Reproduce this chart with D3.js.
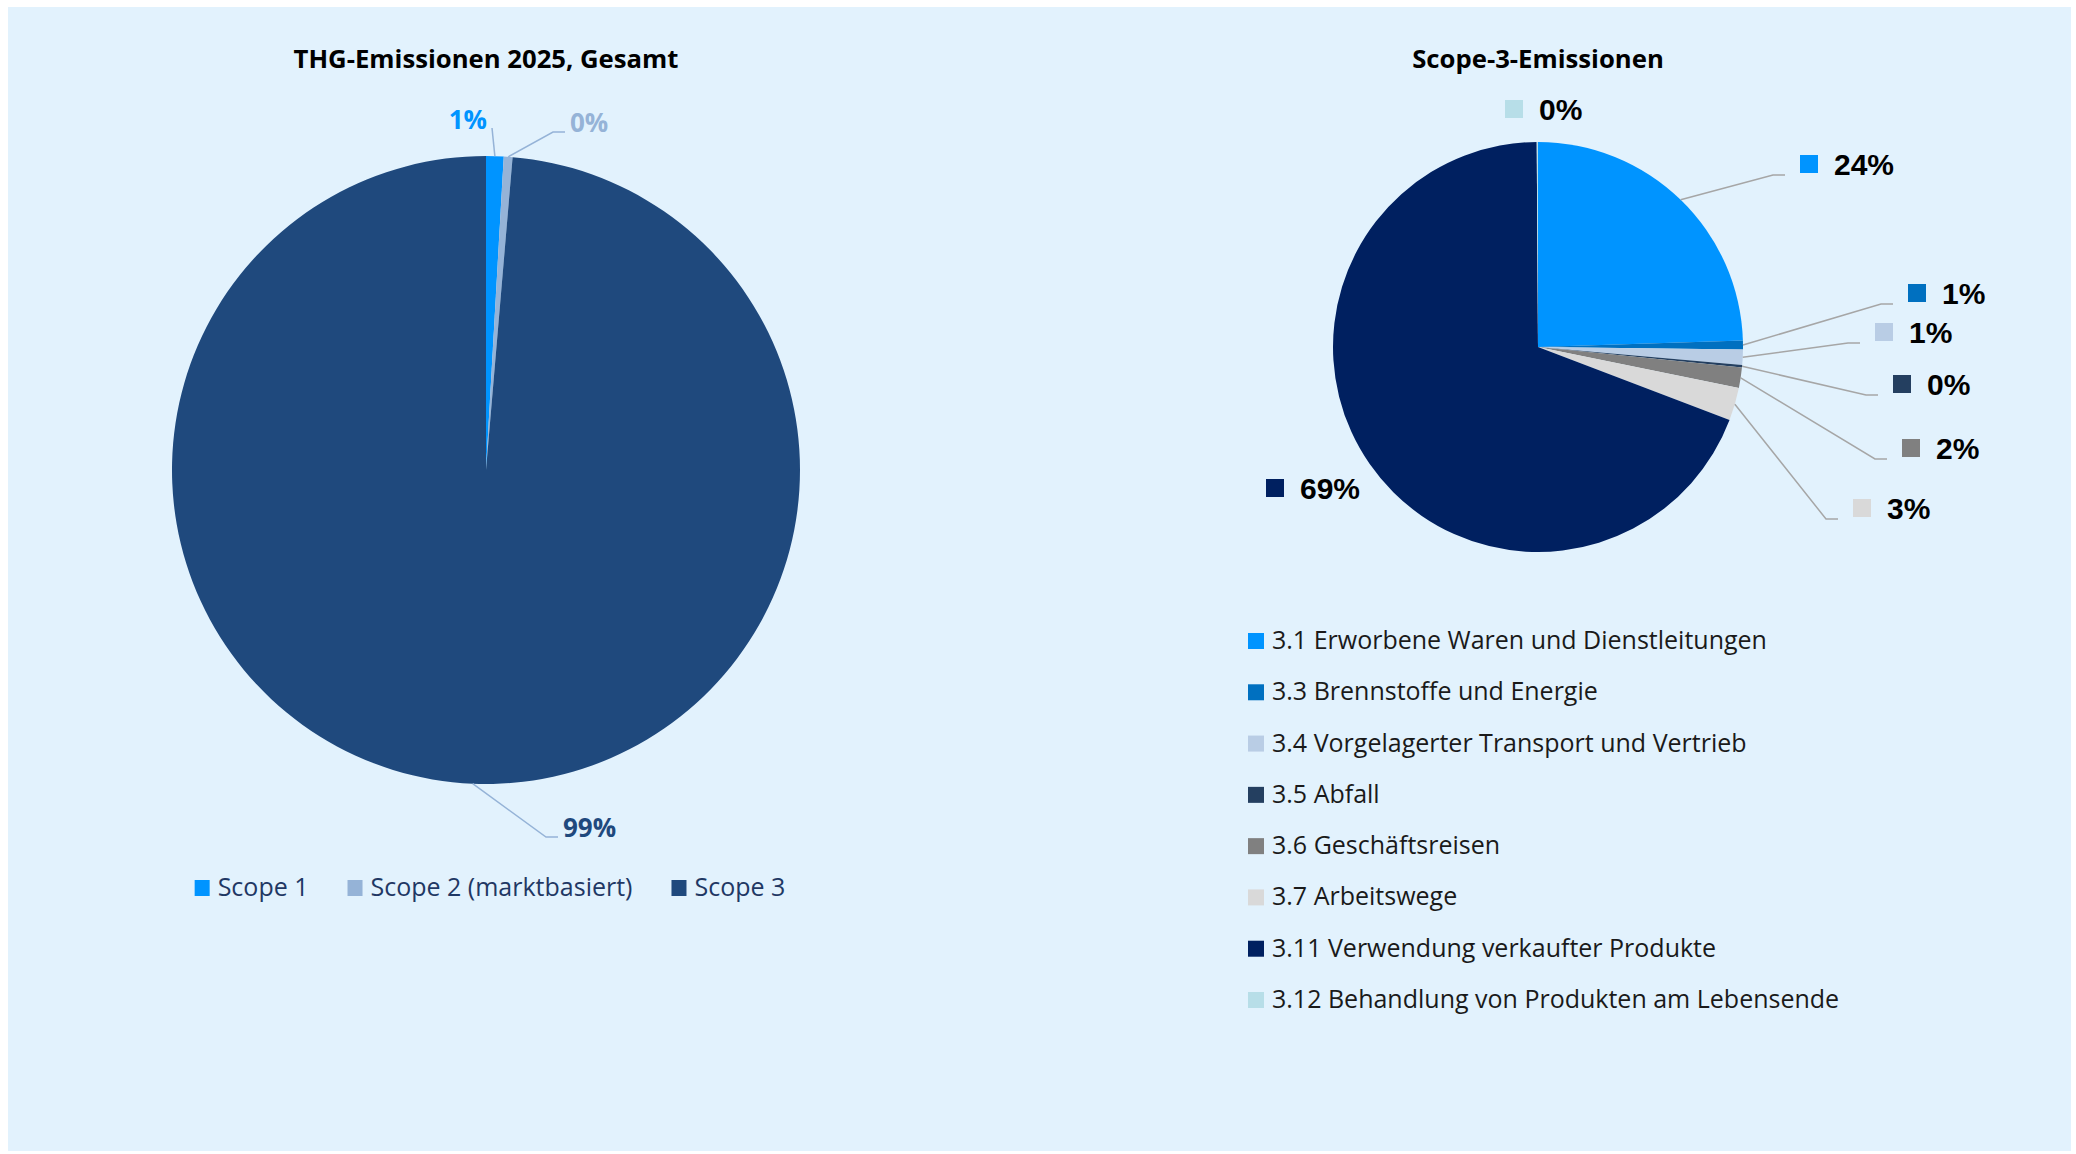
<!DOCTYPE html>
<html>
<head>
<meta charset="utf-8">
<script src="https://cdn.jsdelivr.net/npm/d3@7"></script>
<style>
  body { margin: 0; background: #fff; }
  text { font-family: "Open Sans", "Noto Sans", sans-serif; }
  text.pct { font-family: "Liberation Sans", Arial, sans-serif; }
</style>
</head>
<body>
<script>
// --- data: total emissions by scope (percent shares)
var totalCategories = ["Scope 1", "Scope 2 (marktbasiert)", "Scope 3"];
var totalValues = [0.9, 0.45, 98.65];
var totalLabels = ["1%", "0%", "99%"];

// --- data: scope 3 breakdown (percent shares)
var scope3Categories = [
  "3.1 Erworbene Waren und Dienstleitungen",
  "3.3 Brennstoffe und Energie",
  "3.4 Vorgelagerter Transport und Vertrieb",
  "3.5 Abfall",
  "3.6 Geschäftsreisen",
  "3.7 Arbeitswege",
  "3.11 Verwendung verkaufter Produkte",
  "3.12 Behandlung von Produkten am Lebensende"
];
var scope3Values = [24.5, 0.7, 1.2, 0.2, 1.6, 2.6, 69.1, 0.1];
var scope3Labels = ["24%", "1%", "1%", "0%", "2%", "3%", "69%", "0%"];

// styles
var totalColors = ["#0094FF", "#95B3D7", "#1F497D"];
var scope3Colors = ["#0094FF", "#0070C0", "#B9CDE5", "#243F60", "#808080", "#D9D9D9", "#002060", "#B7DEE8"];

var width = 2076, height = 1154;

var svg = d3.select("body").append("svg")
  .attr("width", width)
  .attr("height", height);

svg.append("rect")
  .attr("x", 8).attr("y", 7)
  .attr("width", 2063).attr("height", 1144)
  .attr("fill", "#E2F2FD");

var pie = d3.pie().sort(null).value(function(d) { return d; });

// ================= left chart =================
var left = { cx: 486, cy: 470, r: 314 };

svg.append("text")
  .attr("x", left.cx).attr("y", 68)
  .attr("text-anchor", "middle")
  .attr("font-size", 25.7).attr("font-weight", 700)
  .attr("fill", "#000")
  .text("THG-Emissionen 2025, Gesamt");

var gL = svg.append("g").attr("transform", "translate(" + left.cx + "," + left.cy + ")");
var arcL = d3.arc().innerRadius(0).outerRadius(left.r);
var edgeL = d3.arc().innerRadius(left.r).outerRadius(left.r);
var arcsL = pie(totalValues);

gL.selectAll("path.slice")
  .data(arcsL)
  .enter().append("path")
  .attr("class", "slice")
  .attr("d", arcL)
  .attr("fill", function(d, i) { return totalColors[i]; });

// label placement (offset of text anchor from pie centre)
var leftLabelPos = [
  { dx: 1, dy: -341, anchor: "end" },
  { dx: 84, dy: -338, anchor: "start" },
  { dx: 77, dy: 367, anchor: "start" }
];

arcsL.forEach(function(d, i) {
  var p = leftLabelPos[i];
  var s = edgeL.centroid(d);
  var pts;
  if (p.anchor === "end") {
    pts = [s, [p.dx + 5, p.dy - 1]];
  } else {
    pts = [s, [p.dx - 17, p.dy], [p.dx - 5, p.dy]];
  }
  gL.append("path")
    .attr("d", d3.line()(pts))
    .attr("fill", "none")
    .attr("stroke", "#95B3D7")
    .attr("stroke-width", 1.5);
  gL.append("text")
    .attr("x", p.dx).attr("y", p.dy)
    .attr("text-anchor", p.anchor)
    .attr("font-size", 26).attr("font-weight", 700)
    .attr("fill", totalColors[i])
    .text(totalLabels[i]);
});

// left legend, centred below the pie
var legL = svg.append("g");
var xPos = 0;
totalCategories.forEach(function(c, i) {
  var item = legL.append("g").attr("transform", "translate(" + xPos + ",0)");
  item.append("rect")
    .attr("x", 0).attr("y", -8)
    .attr("width", 15).attr("height", 16)
    .attr("fill", totalColors[i]);
  var t = item.append("text")
    .attr("x", 23).attr("y", 8)
    .attr("font-size", 25)
    .attr("fill", "#1F3864")
    .text(c);
  xPos += 23 + t.node().getComputedTextLength() + 39;
});
var legLW = xPos - 39;
legL.attr("transform", "translate(" + (left.cx + 4 - legLW / 2) + ",888)");

// ================= right chart =================
var right = { cx: 1538, cy: 347, r: 205 };

svg.append("text")
  .attr("x", right.cx).attr("y", 68)
  .attr("text-anchor", "middle")
  .attr("font-size", 25.7).attr("font-weight", 700)
  .attr("fill", "#000")
  .text("Scope-3-Emissionen");

var gR = svg.append("g").attr("transform", "translate(" + right.cx + "," + right.cy + ")");
var arcR = d3.arc().innerRadius(0).outerRadius(right.r);
var edgeR = d3.arc().innerRadius(right.r).outerRadius(right.r);
var arcsR = pie(scope3Values);

gR.selectAll("path.slice")
  .data(arcsR)
  .enter().append("path")
  .attr("class", "slice")
  .attr("d", arcR)
  .attr("fill", function(d, i) { return scope3Colors[i]; });

// label marker centres relative to pie centre; leader = draw connector
var rightLabelPos = [
  { dx: 271, dy: -183, leader: true },
  { dx: 379, dy: -54, leader: true },
  { dx: 346, dy: -15, leader: true },
  { dx: 364, dy: 37, leader: true },
  { dx: 373, dy: 101, leader: true },
  { dx: 324, dy: 161, leader: true },
  { dx: -263, dy: 141, leader: false },
  { dx: -24, dy: -238, leader: false }
];

arcsR.forEach(function(d, i) {
  var p = rightLabelPos[i];
  var mLeft = p.dx - 9;
  if (p.leader) {
    var s = edgeR.centroid(d);
    gR.append("path")
      .attr("d", d3.line()([s, [mLeft - 27, p.dy + 11], [mLeft - 15, p.dy + 11]]))
      .attr("fill", "none")
      .attr("stroke", "#A6A6A6")
      .attr("stroke-width", 1.5);
  }
  gR.append("rect")
    .attr("x", mLeft).attr("y", p.dy - 9)
    .attr("width", 18).attr("height", 18)
    .attr("fill", scope3Colors[i]);
  gR.append("text")
    .attr("class", "pct")
    .attr("x", p.dx + 25).attr("y", p.dy + 11)
    .attr("font-size", 30).attr("font-weight", 700)
    .attr("fill", "#000")
    .text(scope3Labels[i]);
});

// right legend (vertical list)
var legR = svg.append("g").attr("transform", "translate(1248,641)");
var rowY = d3.scaleLinear().domain([0, 7]).range([0, 359]);
scope3Categories.forEach(function(c, i) {
  legR.append("rect")
    .attr("x", 0).attr("y", rowY(i) - 8)
    .attr("width", 16).attr("height", 16)
    .attr("fill", scope3Colors[i]);
  legR.append("text")
    .attr("x", 24).attr("y", rowY(i) + 8)
    .attr("font-size", 25)
    .attr("fill", "#1A1A1A")
    .text(c);
});
</script>
</body>
</html>
